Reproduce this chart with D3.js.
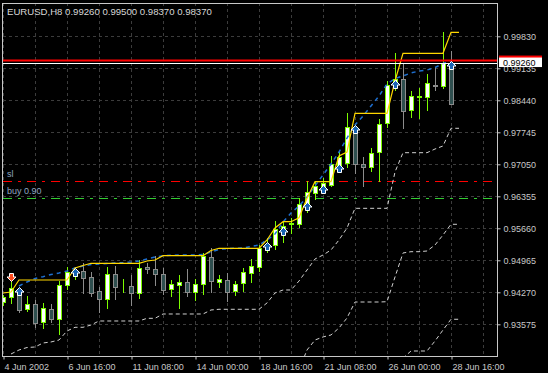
<!DOCTYPE html>
<html>
<head>
<meta charset="utf-8">
<script src="https://cdn.jsdelivr.net/npm/d3@7"></script>
<style>
  body { margin: 0; background: #000; }
  svg { display: block; }
  text { font-family: "Liberation Sans", Arial, sans-serif; font-size: 9px; }
</style>
</head>
<body>
<div id="chart"></div>
<script>
// EURUSD H8, 4 Jun 2002 .. 28 Jun 2002 16:00, one entry per bar
var opens = [0.94053,0.94174,0.94248,0.93901,0.94016,0.93632,0.93907,0.93690,0.94429,0.94624,
  0.94733,0.94596,0.94298,0.94125,0.94667,0.94418,0.94407,0.94248,0.94826,0.94770,
  0.94661,0.94335,0.94429,0.94487,0.94283,0.94444,0.95037,0.94500,0.94531,0.94305,
  0.94466,0.94696,0.94826,0.95189,0.95297,0.95558,0.95758,0.95753,0.96116,0.96433,
  0.96535,0.96590,0.96970,0.97072,0.97758,0.97050,0.96998,0.97311,0.97940,0.98794,
  0.98896,0.98223,0.98501,0.98518,0.98766,0.98757,0.99260];
var highs = [0.94211,0.94537,0.94363,0.94190,0.94103,0.94044,0.94016,0.94515,0.94826,0.94798,
  0.94906,0.94711,0.94392,0.94826,0.94841,0.94559,0.94646,0.94972,0.94906,0.95058,
  0.94804,0.94537,0.94646,0.94776,0.94559,0.95130,0.95239,0.94646,0.94683,0.94515,
  0.94804,0.94987,0.95297,0.95449,0.95819,0.95819,0.95890,0.96312,0.96687,0.96660,
  0.96753,0.97230,0.97317,0.98158,0.97867,0.97209,0.97404,0.98034,0.98859,0.99467,
  0.99257,0.98636,0.98701,0.99005,0.99170,0.99917,0.99500];
var lows = [0.93994,0.94038,0.93849,0.93870,0.93523,0.93501,0.93632,0.93364,0.94335,0.94559,
  0.94255,0.94190,0.93849,0.93929,0.94125,0.94283,0.93994,0.94146,0.94689,0.94429,
  0.94240,0.94196,0.93936,0.94196,0.94109,0.94227,0.94283,0.94392,0.94088,0.94211,
  0.94305,0.94500,0.94739,0.95145,0.95204,0.95369,0.95551,0.95695,0.96021,0.96290,
  0.96470,0.96568,0.96883,0.96998,0.96868,0.96585,0.96905,0.96687,0.97867,0.98664,
  0.97845,0.98084,0.98062,0.98229,0.98664,0.98714,0.98370];
var closes = [0.94161,0.94357,0.93886,0.94016,0.93610,0.93929,0.93684,0.94422,0.94711,0.94733,
  0.94587,0.94248,0.94125,0.94667,0.94392,0.94439,0.94261,0.94791,0.94770,0.94657,
  0.94313,0.94450,0.94487,0.94283,0.94450,0.95058,0.94522,0.94552,0.94283,0.94450,
  0.94704,0.94841,0.95239,0.95319,0.95645,0.95710,0.95780,0.96188,0.96442,0.96572,
  0.96644,0.97050,0.97209,0.97854,0.97050,0.96985,0.97289,0.97919,0.98766,0.98903,
  0.98214,0.98533,0.98527,0.98816,0.98744,0.99257,0.98370];

// indicator buffers (one value per bar, last one is one bar past the data)
var upperLine = [0.94255,0.94277,0.94537,0.94537,0.94537,0.94537,0.94537,0.94537,0.94537,0.94798,
  0.94852,0.94900,0.94900,0.94900,0.94900,0.94900,0.94900,0.94900,0.94950,0.94972,
  0.95065,0.95065,0.95065,0.95065,0.95065,0.95065,0.95178,0.95226,0.95226,0.95226,
  0.95226,0.95226,0.95226,0.95406,0.95667,0.95803,0.95803,0.95890,0.96312,0.96672,
  0.96672,0.96672,0.97230,0.97317,0.98158,0.98158,0.98158,0.98158,0.98158,0.98859,
  0.99461,0.99461,0.99461,0.99461,0.99461,0.99461,0.99917,0.99917];
var signalLine = [null,null,0.94407,0.94494,0.94570,0.94609,0.94657,0.94689,0.94733,0.94798,
  0.94841,0.94874,0.94885,0.94896,0.94906,0.94913,0.94928,0.94950,0.94993,0.95037,
  0.95065,0.95074,0.95080,0.95080,0.95080,0.95091,0.95145,0.95200,0.95221,0.95226,
  0.95232,0.95265,0.95297,0.95406,0.95536,0.95797,0.95992,0.96144,0.96340,0.96579,
  0.96818,0.97057,0.97317,0.97621,0.97904,0.98099,0.98316,0.98533,0.98794,0.98914,
  0.98968,0.99033,0.99076,0.99098,0.99152,0.99239,0.99294];
var stopA = [null,0.92930,0.93017,0.93071,0.93082,0.93169,0.93191,0.93234,0.93430,0.93510,
  0.93510,0.93560,0.93647,0.93647,0.93647,0.93647,0.93647,0.93647,0.93705,0.93705,
  0.93799,0.93799,0.93799,0.93799,0.93799,0.93799,0.93886,0.93901,0.93901,0.93901,
  0.93901,0.93901,0.93901,0.94038,0.94255,0.94320,0.94320,0.94515,0.94754,0.94993,
  0.95080,0.95189,0.95406,0.95667,0.96094,0.96094,0.96094,0.96094,0.96094,0.96883,
  0.97302,0.97302,0.97302,0.97302,0.97382,0.97448,0.97832,0.97832];
var stopB = [null,null,null,null,null,null,null,null,null,null,
  null,null,null,null,null,null,null,null,null,null,
  null,null,null,null,null,null,null,null,null,null,
  null,null,null,null,null,null,null,0.92582,0.93017,0.93234,
  0.93300,0.93343,0.93495,0.93712,0.94059,0.94059,0.94059,0.94059,0.94066,0.94602,
  0.95124,0.95152,0.95152,0.95167,0.95297,0.95515,0.95747,0.95747];
var stopC = [null,null,null,null,null,null,null,null,null,null,
  null,null,null,null,null,null,null,null,null,null,
  null,null,null,null,null,null,null,null,null,null,
  null,null,null,null,null,null,null,null,null,null,
  null,null,null,null,null,null,null,null,null,0.92582,
  0.92843,0.92995,0.92995,0.92995,0.93212,0.93451,0.93684,0.93684];

// trade arrows: bar index and price of the arrow tip
var buyBars = [2, 9, 33, 35, 38, 40, 42, 44, 49, 56];
var buyPrices = [0.94385,0.94787,0.95352,0.95699,0.96231,0.96611,0.97067,0.97904,0.98881,0.99300];
var closeBars = [1];
var closePrices = [0.94689];

// order levels
var slPrice = 0.96681, buyPrice = 0.96312;
var askPrice = 0.99303, bidPrice = 0.99260;

var yTicks = [0.99830,0.99135,0.98440,0.97745,0.97050,0.96355,0.95660,0.94965,0.94270,0.93575];
var xTickBars = [0, 8, 16, 24, 32, 40, 48, 56];
var xTickLabels = ["4 Jun 2002","6 Jun 16:00","11 Jun 08:00","14 Jun 00:00",
  "18 Jun 16:00","21 Jun 08:00","26 Jun 00:00","28 Jun 16:00"];

var width = 548, height = 373;
var plotLeft = 3, plotRight = 497, plotTop = 3, plotBottom = 356;

var svg = d3.select("#chart").append("svg").attr("width", width).attr("height", height)
  .style("background", "#000");

var x = d3.scaleLinear().domain([0, 56]).range([3, 451]);
var y = d3.scaleLinear().domain([0.93575, 0.99830]).range([324.3, 36.3]);
var px = function (v) { return Math.round(v) + 0.5; };

svg.append("clipPath").attr("id", "plot").append("rect")
  .attr("x", plotLeft).attr("y", plotTop).attr("width", plotRight - plotLeft).attr("height", plotBottom - plotTop);

// grid
var grid = svg.append("g").attr("clip-path", "url(#plot)");
grid.selectAll(".hgrid").data(yTicks).enter().append("line")
  .attr("x1", plotLeft).attr("x2", plotRight)
  .attr("y1", function (d) { return px(y(d)); }).attr("y2", function (d) { return px(y(d)); })
  .attr("stroke", "#3c3c3c").attr("stroke-dasharray", "3,3");
grid.selectAll(".vgrid").data(d3.range(0, 61, 4)).enter().append("line")
  .attr("x1", function (d) { return px(x(d)); }).attr("x2", function (d) { return px(x(d)); })
  .attr("y1", plotTop).attr("y2", plotBottom)
  .attr("stroke", "#3c3c3c").attr("stroke-dasharray", "3,3");

var plot = svg.append("g").attr("clip-path", "url(#plot)");

// order level lines
plot.append("line").attr("x1", plotLeft).attr("x2", plotRight)
  .attr("y1", px(y(slPrice))).attr("y2", px(y(slPrice)))
  .attr("stroke", "#ff0000").attr("stroke-dasharray", "9,6,3,6");
plot.append("line").attr("x1", plotLeft).attr("x2", plotRight)
  .attr("y1", px(y(buyPrice))).attr("y2", px(y(buyPrice)))
  .attr("stroke", "#32cd32").attr("stroke-dasharray", "9,6,3,6");
plot.append("text").attr("x", 7).attr("y", y(slPrice) - 4).attr("fill", "#8fa6c0").text("sl");
plot.append("text").attr("x", 7).attr("y", y(buyPrice) - 4).attr("fill", "#8fa6c0").text("buy 0.90");

// candles
var bars = d3.range(opens.length);
var candles = plot.selectAll(".candle").data(bars).enter().append("g");
candles.append("line")
  .attr("x1", function (i) { return px(x(i)); }).attr("x2", function (i) { return px(x(i)); })
  .attr("y1", function (i) { return Math.round(y(highs[i])); })
  .attr("y2", function (i) { return Math.round(y(lows[i])) + 1; })
  .attr("stroke", function (i) { return closes[i] >= opens[i] ? "#7cfc00" : "#8c8c8c"; });
candles.append("rect")
  .attr("x", function (i) { return Math.round(x(i)) - 2 + 0.5; })
  .attr("y", function (i) { return px(y(Math.max(opens[i], closes[i]))); })
  .attr("width", 4)
  .attr("height", function (i) {
    return Math.round(y(Math.min(opens[i], closes[i]))) - Math.round(y(Math.max(opens[i], closes[i])));
  })
  .attr("fill", function (i) { return closes[i] >= opens[i] ? "#ffffff" : "#2f4f4f"; })
  .attr("stroke", function (i) { return closes[i] >= opens[i] ? "#7cfc00" : "#8c8c8c"; });

// indicator lines
var line = d3.line().defined(function (d) { return d != null; })
  .x(function (d, i) { return x(i); }).y(function (d) { return y(d); });
[stopA, stopB, stopC].forEach(function (s) {
  plot.append("path").attr("d", line(s)).attr("fill", "none")
    .attr("stroke", "#d0d0d0").attr("stroke-dasharray", "4,3");
});
plot.append("path").attr("d", line(signalLine)).attr("fill", "none")
  .attr("stroke", "#1e6fd0").attr("stroke-width", 1.5).attr("stroke-dasharray", "4,4");
plot.append("path").attr("d", line(upperLine)).attr("fill", "none")
  .attr("stroke", "#ffd700").attr("stroke-width", 1.2);

// bid / ask lines
plot.append("line").attr("x1", plotLeft).attr("x2", plotRight)
  .attr("y1", y(askPrice)).attr("y2", y(askPrice)).attr("stroke", "#ff0000").attr("stroke-width", 2);
plot.append("line").attr("x1", plotLeft).attr("x2", plotRight)
  .attr("y1", px(y(bidPrice))).attr("y2", px(y(bidPrice))).attr("stroke", "#ffffff");

// arrows
plot.selectAll(".buy").data(buyBars).enter().append("path")
  .attr("transform", function (d, k) { return "translate(" + (Math.round(x(d)) + 0.5) + "," + (Math.round(y(buyPrices[k])) + 0.5) + ")"; })
  .attr("d", "M0,0L4.5,4.5L2,4.5L2,8L-2,8L-2,4.5L-4.5,4.5Z")
  .attr("fill", "#1a64b4").attr("stroke", "#ffffff");
plot.selectAll(".close").data(closeBars).enter().append("path")
  .attr("transform", function (d, k) { return "translate(" + (Math.round(x(d)) + 0.5) + "," + (Math.round(y(closePrices[k])) + 0.5) + ")"; })
  .attr("d", "M-2,0L2,0L2,3.5L4.5,3.5L0,8L-4.5,3.5L-2,3.5Z")
  .attr("fill", "#ff4a1c").attr("stroke", "#ffffff");

// frame
svg.append("rect").attr("x", plotLeft - 0.5).attr("y", plotTop + 0.5)
  .attr("width", plotRight - plotLeft + 1).attr("height", plotBottom - plotTop)
  .attr("fill", "none").attr("stroke", "#c8c8c8");

// price axis
var yAxis = svg.append("g").attr("transform", "translate(" + (plotRight + 0.5) + ",0)")
  .call(d3.axisRight(y).tickValues(yTicks).tickSize(3).tickPadding(3).tickFormat(d3.format(".5f")));
yAxis.select(".domain").remove();
yAxis.selectAll("line").attr("stroke", "#c8c8c8");
yAxis.selectAll("text").attr("fill", "#c8c8c8").style("font-size", "9px");

// current price labels
svg.append("rect").attr("x", plotRight + 2).attr("y", y(askPrice) - 5).attr("width", 43).attr("height", 10).attr("fill", "#ff0000");
svg.append("rect").attr("x", plotRight + 2).attr("y", y(bidPrice) - 5).attr("width", 43).attr("height", 9.5).attr("fill", "#ffffff");
svg.append("text").attr("x", plotRight + 6).attr("y", y(bidPrice) + 3.5).attr("fill", "#000").text(d3.format(".5f")(bidPrice));

// time axis
var xAxis = svg.append("g").attr("transform", "translate(0," + (plotBottom + 0.5) + ")")
  .call(d3.axisBottom(x).tickValues(xTickBars).tickSize(3).tickPadding(4)
    .tickFormat(function (d, k) { return xTickLabels[k]; }));
xAxis.select(".domain").remove();
xAxis.selectAll(".tick line").attr("stroke", "#c8c8c8").attr("transform", "translate(0.5,0)");
xAxis.selectAll("text").attr("fill", "#c8c8c8").attr("text-anchor", "start").attr("dx", 1).style("font-size", "9px");

// header
svg.append("text").attr("x", 7).attr("y", 15).attr("fill", "#d8d8d8").style("font-size", "9.6px")
  .text("EURUSD,H8  0.99260 0.99500 0.98370 0.98370");
</script>
</body>
</html>
